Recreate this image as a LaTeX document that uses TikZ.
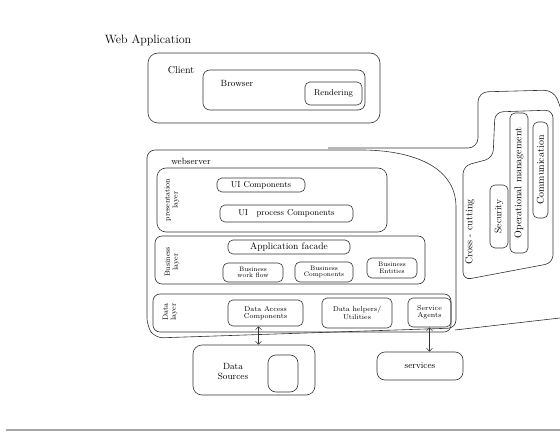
\documentclass[tikz,border=0pt]{standalone}
\usepackage{amsmath}
\usetikzlibrary{calc, positioning}
\usetikzlibrary{arrows.meta}

\begin{document}
\begin{tikzpicture}[x=1pt,y=-1pt,
    ink/.style={draw=black!80, line width=0.6pt},
    box/.style={ink, rounded corners=7pt, inner sep=0pt},
    comp/.style={box, rounded corners=5pt, align=center,
                 font=\fontsize{7}{7.5}\selectfont},
    lbl/.style={inner sep=0pt, font=\fontsize{9}{10}\selectfont},
    side/.style={lbl, rotate=90, align=center, font=\fontsize{7.5}{8}\selectfont},
    link/.style={ink, {Straight Barb[length=3pt]}-{Straight Barb[length=3pt]}}]
\useasboundingbox (0,0) rectangle (560,433);

% title
\node[lbl, font=\large] (title) at (148,40) {Web Application};

% client
\node[box, rounded corners=10pt, minimum width=232, minimum height=70] (client) at (264,88) {};
\node[lbl, font=\normalsize] (clientlbl) at (181,70) {Client};
\node[box, minimum width=162, minimum height=40] (browser) at (284,90) {};
\node[lbl] (browserlbl) at (237,83) {Browser};
\node[comp, minimum width=57, minimum height=23, font=\fontsize{8.5}{9}\selectfont] (render) at (333.5,93.5) {Rendering};

% outer boundary
\draw[ink, rounded corners=10pt] (328,148) -- (478,148) -- (478,92) -- (554,90) -- (562,112);
\draw[ink] (455,330) -- (560,318);

% webserver
\coordinate (wsnw) at (147,150);
\coordinate (wsse) at (456,338);
\draw[ink, rounded corners=8pt] (wsse |- 0,328) -- (155,338) -- (147,326) -- (wsnw) -- (370,150)
  .. controls (420,154) and (456,170) .. (456,215) -- cycle;
\node[lbl] (websrvlbl) at (191,161) {webserver};

% presentation layer
\node[box, rounded corners=9pt, minimum width=230, minimum height=64] (pres) at (272,200) {};
\node[side] (preslbl) at (172,200) {presentation\\layer};
\node[comp, minimum width=88, minimum height=14, font=\fontsize{8.5}{9}\selectfont] (uicomp) at (261,185) {UI Components};
\node[comp, minimum width=133, minimum height=17, font=\fontsize{8.5}{9}\selectfont] (uiproc) at (286.5,213.5) {UI\quad process Components};

% business layer
\node[box, minimum width=270, minimum height=48] (biz) at (290,260) {};
\node[side] (bizlbl) at (172,262) {Business\\layer};
\node[comp, minimum width=122, minimum height=14, font=\fontsize{9.5}{10}\selectfont] (facade) at (289,247) {Application facade};
\node[comp, minimum width=60, minimum height=19, font=\fontsize{6.5}{6.5}\selectfont] (flow) at (253,272.5) {Business\\work flow};
\node[comp, minimum width=58, minimum height=20, font=\fontsize{6.5}{6.5}\selectfont] (bizcomp) at (324,272) {Business\\Components};
\node[comp, minimum width=50, minimum height=20, font=\fontsize{6.5}{6.5}\selectfont] (entity) at (392,268) {Business\\Entities};

% data layer
\node[box, minimum width=298, minimum height=38] (data) at (302,313) {};
\node[side] (datalbl) at (170,312) {Data\\layer};
\node[comp, minimum width=75, minimum height=26] (dac) at (265.5,313) {Data Access\\Components};
\node[comp, minimum width=70, minimum height=30] (helper) at (357,313) {Data helpers/\\Utilities};
\node[comp, minimum width=43, minimum height=29] (agent) at (429.5,312.5) {Service\\Agents};

% data sources and services
\node[box, rounded corners=9pt, minimum width=122, minimum height=50] (src) at (254,370) {};
\node[lbl, align=center] (srclbl) at (233,372) {Data\\Sources};
\node[box, rounded corners=8pt, minimum width=30, minimum height=37] (db) at (283,373.5) {};
\node[comp, rounded corners=8pt, minimum width=86, minimum height=28, font=\fontsize{9}{10}\selectfont] (svc) at (420,366) {services};

\coordinate (dacfoot) at ($(dac.south)+(-7,0)$);
\draw[link] (dacfoot) -- (dacfoot |- src.north);
\draw[link] (agent.south) -- (agent.south |- svc.north);

% cross-cutting
\draw[ink, rounded corners=8pt] (463,280) -- (463,166) -- (493,158) -- (495,112) -- (553,110) -- (553,263) -- cycle;
\node[side, font=\fontsize{10}{10}\selectfont] (crosslbl) at (470,232) {Cross - cutting};
\node[comp, rotate=90, minimum width=63, minimum height=18, font=\fontsize{9.5}{10}\selectfont] (secu) at (499,216.5) {Security};
\node[comp, rotate=90, minimum width=140, minimum height=18, font=\fontsize{10}{10}\selectfont] (opmgmt) at (519,183) {Operational management};
\node[comp, rotate=90, minimum width=96, minimum height=15, font=\fontsize{10}{10}\selectfont] (comm) at (540.5,170) {Communication};

% page edge
\draw[gray!70, line width=1.5pt] (6,430) -- (560,430);
\end{tikzpicture}
\end{document}
